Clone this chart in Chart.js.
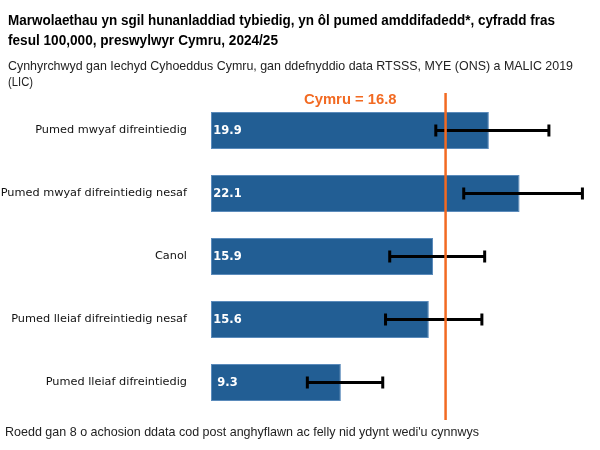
<!DOCTYPE html>
<html>
<head>
<meta charset="utf-8">
<script src="https://cdn.jsdelivr.net/npm/chart.js@4"></script>
<style>
  body { margin: 0; background: #fff; }
  #wrap { position: relative; width: 600px; height: 450px; overflow: hidden; }
  #chart { position: absolute; left: 0; top: 0; }
  .txt { position: absolute; font-family: "Liberation Sans", Arial, sans-serif; color: #000; white-space: nowrap; line-height: 20px; transform-origin: 0 50%; }
  .title { font-size: 13.8px; font-weight: bold; }
  .sub { font-size: 12.8px; color: #222; }
</style>
</head>
<body>
<div id="wrap">
  <canvas id="chart" width="600" height="450"></canvas>
  <span class="txt title" style="left:8px; top:10.7px" data-w="547">Marwolaethau yn sgil hunanladdiad tybiedig, yn ôl pumed amddifadedd*, cyfradd fras</span>
  <span class="txt title" style="left:8px; top:30.7px" data-w="270">fesul 100,000, preswylwyr Cymru, 2024/25</span>
  <span class="txt sub" style="left:8px; top:55.5px" data-w="565">Cynhyrchwyd gan Iechyd Cyhoeddus Cymru, gan ddefnyddio data RTSSS, MYE (ONS) a MALIC 2019</span>
  <span class="txt sub" style="left:8px; top:72.2px" data-w="25">(LIC)</span>
  <span class="txt sub" style="left:5px; top:421.5px" data-w="474">Roedd gan 8 o achosion ddata cod post anghyflawn ac felly nid ydynt wedi'u cynnwys</span>
</div>
<script>
  // Chart data
  const categories = [
    'Pumed mwyaf difreintiedig',
    'Pumed mwyaf difreintiedig nesaf',
    'Canol',
    'Pumed lleiaf difreintiedig nesaf',
    'Pumed lleiaf difreintiedig'
  ];
  const rates = [19.9, 22.1, 15.9, 15.6, 9.3];
  const lowerCI = [16.1, 18.1, 12.8, 12.5, 6.9];
  const upperCI = [24.2, 26.6, 19.6, 19.4, 12.3];
  const walesRate = 16.8;
  const walesLabel = 'Cymru = 16.8';

  const barColour = '#225e94';
  const orange = '#f26a22';

  // nudge each text line to the width it has in the source
  document.querySelectorAll('.txt').forEach(el => {
    const target = Number(el.dataset.w);
    const w = el.getBoundingClientRect().width;
    if (w > 0) el.style.transform = `scaleX(${target / w})`;
  });

  // Error bars, value labels and the Wales reference line
  const overlayPlugin = {
    id: 'overlay',
    afterDatasetsDraw(chart) {
      const ctx = chart.ctx;
      const x = chart.scales.x;
      const area = chart.chartArea;
      const meta = chart.getDatasetMeta(0);

      ctx.save();
      // value labels
      ctx.fillStyle = '#fff';
      ctx.font = 'bold 11.5px "DejaVu Sans", Verdana, sans-serif';
      ctx.textAlign = 'center';
      ctx.textBaseline = 'middle';
      meta.data.forEach((bar, i) => {
        ctx.fillText(rates[i].toFixed(1), x.getPixelForValue(0) + 16.5, bar.y + 1);
      });

      // error bars
      ctx.strokeStyle = '#000';
      ctx.lineWidth = 3;
      meta.data.forEach((bar, i) => {
        const x1 = x.getPixelForValue(lowerCI[i]);
        const x2 = x.getPixelForValue(upperCI[i]);
        ctx.beginPath();
        ctx.moveTo(x1, bar.y);
        ctx.lineTo(x2, bar.y);
        ctx.moveTo(x1, bar.y - 6);
        ctx.lineTo(x1, bar.y + 6);
        ctx.moveTo(x2, bar.y - 6);
        ctx.lineTo(x2, bar.y + 6);
        ctx.stroke();
      });

      // Wales line
      const wx = x.getPixelForValue(walesRate);
      ctx.strokeStyle = orange;
      ctx.lineWidth = 2.5;
      ctx.beginPath();
      ctx.moveTo(wx, area.top - 6);
      ctx.lineTo(wx, area.bottom + 6);
      ctx.stroke();

      ctx.fillStyle = orange;
      ctx.font = 'bold 14.8px "Liberation Sans", Arial, sans-serif';
      ctx.textAlign = 'right';
      ctx.fillText(walesLabel, wx - 49, area.top + 1);
      ctx.restore();
    }
  };

  new Chart(document.getElementById('chart'), {
    type: 'bar',
    data: {
      labels: categories,
      datasets: [{
        data: rates,
        backgroundColor: barColour,
        borderColor: '#5b8bbb',
        borderWidth: 1,
        borderSkipped: false,
        categoryPercentage: 0.59,
        barPercentage: 1
      }]
    },
    options: {
      indexAxis: 'y',
      responsive: false,
      animation: false,
      layout: { padding: { top: 99, bottom: 36, right: 12, left: 0 } },
      scales: {
        x: {
          display: false,
          min: 0,
          max: 27
        },
        y: {
          grid: { display: false, drawTicks: false },
          border: { display: false },
          ticks: {
            padding: 24,
            color: '#111',
            font: { family: '"DejaVu Sans", Verdana, sans-serif', size: 11.3 }
          },
          afterFit(scale) { scale.width = 211; }
        }
      },
      plugins: {
        legend: { display: false },
        tooltip: { enabled: false }
      }
    },
    plugins: [overlayPlugin]
  });
</script>
</body>
</html>
